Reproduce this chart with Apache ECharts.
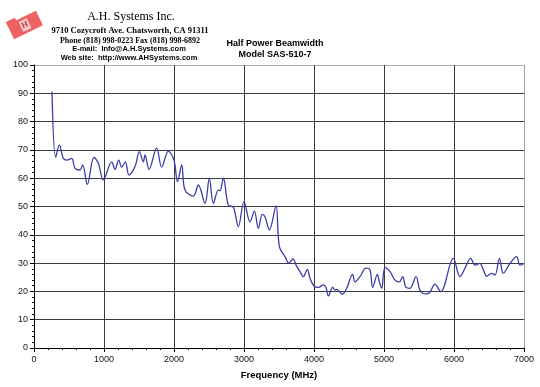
<!DOCTYPE html>
<html>
<head>
<meta charset="utf-8">
<script src="https://cdn.jsdelivr.net/npm/echarts@6/dist/echarts.min.js"></script>
<style>html,body{margin:0;padding:0;background:#fff}#c{width:540px;height:387px}</style>
</head>
<body>
<div id="c"></div>
<script>
var freqMHz = [257,310,362,419,467,538,586,657,695,762,857,919,990,1110,1157,1210,1253,1305,1357,1443,1505,1562,1586,1643,1752,1824,1919,2000,2050,2110,2157,2276,2348,2443,2505,2562,2633,2657,2705,2776,2848,2919,3000,3086,3148,3205,3262,3300,3362,3457,3505,3586,3640,3700,3750,3800,3848,3905,3943,4000,4062,4133,4171,4205,4267,4300,4324,4405,4467,4552,4586,4657,4743,4800,4838,4905,4933,4967,5014,5086,5157,5219,5267,5314,5371,5457,5514,5586,5650,5729,5810,5990,6086,6157,6238,6300,6371,6414,6467,6538,6586,6648,6705,6800,6895,6943,7000];
var beamwidth = [90.6,67.4,71.7,67,66.4,67,63.5,62.9,64.7,57.8,67.4,65.3,59.4,65.8,63.1,66.4,63.9,65.8,61.1,64.1,69.4,65.8,68.2,63.1,70.6,63.9,69.6,66.4,58.8,64.7,55.8,53.7,57.6,51.1,60,51.1,55.8,55.5,60,50.5,49.7,42.9,51.7,44.6,48.4,42.3,47.2,46.4,41.7,50.2,35.8,32.3,30,31.5,29,27,25.2,27.8,24.6,21.9,21.4,22.3,21.4,18.4,21.4,20.5,20.7,19,21.1,26,23.4,25.2,28.2,27.6,21.4,26,23.4,21.1,28.4,27,24,23.4,25.2,21.4,21.1,25.2,20.5,19.1,19.5,22.6,19.9,31.7,25.2,28.2,31.7,29.3,29.9,28,25.4,26.4,25.8,31.7,26.4,29.9,32.3,29.3,29.9];
var xTicks = [0,1000,2000,3000,4000,5000,6000,7000];
var yTicks = [0,10,20,30,40,50,60,70,80,90,100];
var titleLines = ['Half Power Beamwidth','Model SAS-510-7'];
var companyLines = ['A.H. Systems Inc.','9710 Cozycroft Ave. Chatsworth, CA 91311','Phone (818) 998-0223 Fax (818) 998-6892','E-mail:  Info@A.H.Systems.com','Web site:  http://www.AHSystems.com'];
var xName = 'Frequency (MHz)';

var data = freqMHz.map(function(f,i){return [f, beamwidth[i]];});
var ySplitColors = yTicks.map(function(v,i){return i===yTicks.length-1?'#b0b0b0':'#3a3a3a';});
var xSplitColors = xTicks.map(function(v,i){return i===xTicks.length-1?'#a0a0a0':'#3a3a3a';});

var chart = echarts.init(document.getElementById('c'), null, {renderer:'canvas'});
chart.setOption({
  animation:false,
  backgroundColor:'#fff',
  grid:{left:34, top:65, width:490, height:283, containLabel:false},
  xAxis:{
    type:'value', min:0, max:7000, interval:1000,
    name:xName, nameLocation:'middle', nameGap:22,
    nameTextStyle:{fontFamily:'Liberation Sans', fontWeight:'bold', fontSize:9.5, color:'#000'},
    axisLine:{show:true, lineStyle:{color:'#000', width:1}},
    axisTick:{show:true, length:4, inside:false, lineStyle:{color:'#000'}},
    minorTick:{show:true, splitNumber:5, length:2, lineStyle:{color:'#000'}},
    axisLabel:{fontFamily:'Liberation Sans', fontSize:9, color:'#111', margin:7, formatter:function(v){return String(v);}},
    splitLine:{show:true, lineStyle:{color:xSplitColors, width:1}}
  },
  yAxis:{
    type:'value', min:0, max:100, interval:10,
    axisLine:{show:true, onZero:false, lineStyle:{color:'#000', width:1}},
    axisTick:{show:true, length:4, lineStyle:{color:'#000'}},
    minorTick:{show:true, splitNumber:5, length:2, lineStyle:{color:'#000'}},
    axisLabel:{fontFamily:'Liberation Sans', fontSize:9, color:'#111', margin:6},
    splitLine:{show:true, lineStyle:{color:ySplitColors, width:1}}
  },
  series:[{
    type:'line', data:data, smooth:0.35, showSymbol:false,
    lineStyle:{color:'#3c3ca8', width:1.3}
  }],
  graphic:[
    {type:'group', x:25, y:25, rotation:0.45, children:[
      {type:'rect', shape:{x:-16,y:-8,width:32,height:16}, style:{fill:'#f06262'}},
      {type:'rect', shape:{x:-16,y:-11,width:10,height:5}, style:{fill:'#f06262'}},
      {type:'rect', shape:{x:-5,y:-6,width:10,height:12}, style:{fill:'#f8c8c8', stroke:'#d04040', lineWidth:0.5}},
      {type:'text', x:0, y:0, style:{text:'H', fill:'#c03030', font:'bold 8px Liberation Serif', textAlign:'center', textVerticalAlign:'middle'}}
    ]},
    {type:'text', x:131, y:17, style:{text:companyLines[0], fill:'#000', font:'12px Liberation Serif', textAlign:'center', textVerticalAlign:'middle'}},
    {type:'text', x:130, y:30.5, style:{text:companyLines[1], fill:'#000', font:'bold 8.5px Liberation Serif', textAlign:'center', textVerticalAlign:'middle'}},
    {type:'text', x:130, y:40.5, style:{text:companyLines[2], fill:'#000', font:'bold 8px Liberation Serif', textAlign:'center', textVerticalAlign:'middle'}},
    {type:'text', x:129, y:49, style:{text:companyLines[3], fill:'#000', font:'bold 7.5px Liberation Sans', textAlign:'center', textVerticalAlign:'middle'}},
    {type:'text', x:129, y:57.5, style:{text:companyLines[4], fill:'#000', font:'bold 7.5px Liberation Sans', textAlign:'center', textVerticalAlign:'middle'}},
    {type:'text', x:275, y:43.5, style:{text:titleLines[0], fill:'#000', font:'bold 9px Liberation Sans', textAlign:'center', textVerticalAlign:'middle'}},
    {type:'text', x:275, y:54.5, style:{text:titleLines[1], fill:'#000', font:'bold 9px Liberation Sans', textAlign:'center', textVerticalAlign:'middle'}}
  ]
});
</script>
</body>
</html>
